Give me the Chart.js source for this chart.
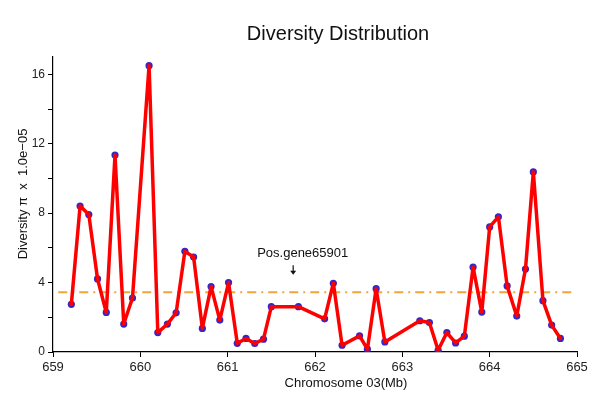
<!DOCTYPE html>
<html>
<head>
<meta charset="utf-8">
<title>Diversity Distribution</title>
<script src="https://cdn.jsdelivr.net/npm/chart.js@4/dist/chart.umd.min.js"></script>
<style>
body{margin:0;background:#fff;}
canvas{display:block;}
</style>
</head>
<body>
<canvas id="divChart" width="597" height="405"></canvas>
<script>

// window positions along chromosome 03 (Mb)
let positions = [
659.21,659.31,659.41,659.51,659.61,659.71,659.81,659.91,660.10,660.20,
660.31,660.41,660.51,660.61,660.71,660.81,660.91,661.01,661.11,661.21,
661.31,661.41,661.50,661.81,662.11,662.21,662.31,662.51,662.60,662.70,
662.80,663.20,663.31,663.41,663.51,663.61,663.71,663.81,663.91,664.00,
664.10,664.20,664.31,664.41,664.50,664.61,664.71,664.81
];

// nucleotide diversity, units of 1.0e-05
let diversity = [
2.75,8.41,7.92,4.21,2.28,11.35,1.61,3.11,16.5,1.12,
1.61,2.26,5.80,5.47,1.36,3.77,1.84,4.00,0.50,0.78,
0.49,0.74,2.61,2.61,1.91,3.96,0.39,0.93,0.16,3.65,
0.58,1.80,1.70,0.10,1.12,0.52,0.91,4.89,2.30,7.21,
7.79,3.81,2.07,4.78,10.38,2.96,1.55,0.78
];

let xTicks = [659,660,661,662,663,664,665];
let yLabelTicks = [0,4,8,12,16];

let meanDiversity = 3.45;
let meanSpan = [659.06,664.94];

let geneName = "Pos.gene65901";
let genePos = 661.75;

let points = positions.map((p,i)=>({x:p,y:diversity[i]}));
let meanLine = meanSpan.map(p=>({x:p,y:meanDiversity}));

const FONT = "'Liberation Sans', Arial, sans-serif";

// title, axis titles and the gene marker
const extras = {
id:"extras",
afterDraw(chart){
let ctx = chart.ctx;
let xs = chart.scales.x;
let ys = chart.scales.y;

ctx.save();
ctx.fillStyle = "#111";
ctx.textAlign = "center";
ctx.textBaseline = "middle";

ctx.font = "20px " + FONT;
ctx.fillText("Diversity Distribution", 338, 34);

ctx.font = "13px " + FONT;
ctx.fillText("Chromosome 03(Mb)", 346, 383);

ctx.save();
ctx.translate(23, 194);
ctx.rotate(-Math.PI/2);
ctx.fillText("Diversity \u03c0  x  1.0e\u221205", 0, 0);
ctx.restore();

// gene label with arrow pointing down
let gx = xs.getPixelForValue(genePos);
ctx.font = "13px " + FONT;
ctx.textAlign = "left";
ctx.fillText(geneName, gx - 36, ys.getPixelForValue(5.68));

let aTop = ys.getPixelForValue(5.0);
let aBot = ys.getPixelForValue(4.45);
ctx.strokeStyle = "#111";
ctx.lineWidth = 1.2;
ctx.beginPath();
ctx.moveTo(gx, aTop);
ctx.lineTo(gx, aBot - 3);
ctx.stroke();
ctx.beginPath();
ctx.moveTo(gx - 3, aBot - 4);
ctx.lineTo(gx + 3, aBot - 4);
ctx.lineTo(gx, aBot);
ctx.closePath();
ctx.fill();

ctx.restore();
}
};

new Chart(document.getElementById("divChart"),{
type:"line",
data:{
datasets:[
{
data:points,
borderColor:"#ff0000",
borderWidth:3.5,
borderJoinStyle:"round",
borderCapStyle:"round",
pointRadius:0,
tension:0,
order:1
},
{
data:points,
showLine:false,
pointRadius:3.6,
pointBackgroundColor:"#3526c8",
pointBorderWidth:0,
order:2
},
{
data:meanLine,
borderColor:"#f0a63a",
borderWidth:2,
borderDash:[9,5,2,5],
pointRadius:0,
order:3
}
]
},
options:{
responsive:false,
animation:false,
devicePixelRatio:1,
layout:{padding:{top:57,right:20,left:0,bottom:0}},
plugins:{
legend:{display:false},
tooltip:{enabled:false}
},
scales:{
x:{
type:"linear",
min:659,
max:665,
afterBuildTicks(scale){
scale.ticks = xTicks.map(v=>({value:v}));
},
afterFit(scale){ scale.height = 53; },
grid:{drawOnChartArea:false,color:"#000",tickLength:5},
border:{color:"#000",width:1.2},
ticks:{color:"#222",font:{family:FONT,size:13},padding:3,maxRotation:0}
},
y:{
min:0,
max:17,
ticks:{
stepSize:1,
color:"#222",
font:{family:FONT,size:12},
padding:3,
callback:v=>yLabelTicks.includes(v) ? v : ""
},
afterFit(scale){ scale.width = 53; },
grid:{drawOnChartArea:false,color:"#000",tickLength:5},
border:{color:"#000",width:1.2}
}
}
},
plugins:[extras]
});

</script>
</body>
</html>
